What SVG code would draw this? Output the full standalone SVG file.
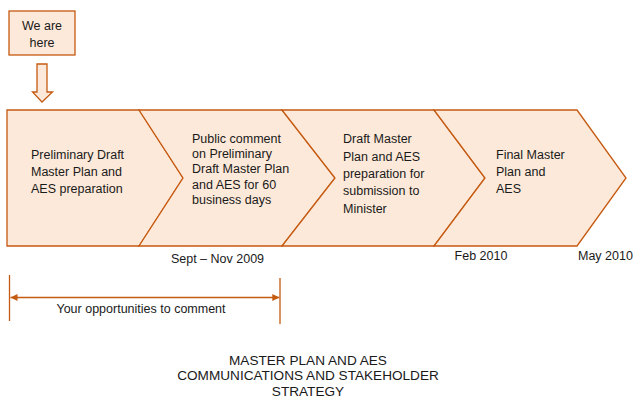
<svg xmlns="http://www.w3.org/2000/svg" width="633" height="399" viewBox="0 0 633 399">
  <style>
    .shape { fill: #FDE9D9; stroke: #C55A11; stroke-width: 1.3; stroke-linejoin: miter; }
    .txt { font-family: "Liberation Sans", Arial, sans-serif; font-size: 12.5px; fill: #1a1a1a; }
    .title { font-family: "Liberation Sans", Arial, sans-serif; font-size: 13.6px; fill: #1a1a1a; text-anchor: middle; }
    .rule { stroke: #C55A11; stroke-width: 1.3; fill: none; }
  </style>
  <defs>
    <marker id="arrowHead" viewBox="0 0 10 10" refX="10" refY="5" markerWidth="7" markerHeight="7" markerUnits="userSpaceOnUse" orient="auto-start-reverse">
      <path d="M0,0 L10,5 L0,10 Z" fill="#C55A11"/>
    </marker>
  </defs>

  <rect width="633" height="399" fill="#ffffff"/>

  <!-- "We are here" marker box -->
  <g id="marker-box">
    <rect class="shape" x="9" y="11" width="66" height="44"/>
    <text class="txt" x="42" y="29.5" text-anchor="middle">We are</text>
    <text class="txt" x="42" y="47" text-anchor="middle">here</text>
  </g>

  <!-- block arrow pointing down -->
  <g id="down-arrow">
    <path class="shape" d="M37,64 L47,64 L47,92 L52.5,92 L42,102 L32.5,92 L37,92 Z"/>
  </g>

  <!-- process chevrons -->
  <g id="stage-1">
    <path class="shape" d="M7,110 L139,110 L183,178 L139,246 L7,246 Z"/>
    <text class="txt" x="31">
      <tspan x="31" y="158.5">Preliminary Draft</tspan>
      <tspan x="31" y="175.7">Master Plan and</tspan>
      <tspan x="31" y="192.9">AES preparation</tspan>
    </text>
  </g>

  <g id="stage-2">
    <path class="shape" d="M139,110 L282,110 L335,178 L282,246 L139,246 L183,178 Z"/>
    <text class="txt">
      <tspan x="192" y="142.7">Public comment</tspan>
      <tspan x="192" y="158">on Preliminary</tspan>
      <tspan x="192" y="173.4">Draft Master Plan</tspan>
      <tspan x="192" y="188.7">and AES for 60</tspan>
      <tspan x="192" y="204">business days</tspan>
    </text>
  </g>

  <g id="stage-3">
    <path class="shape" d="M282,110 L434,110 L485,178 L434,246 L282,246 L335,178 Z"/>
    <text class="txt">
      <tspan x="343" y="142.7">Draft Master</tspan>
      <tspan x="343" y="160.8">Plan and AES</tspan>
      <tspan x="343" y="177.7">preparation for</tspan>
      <tspan x="343" y="195">submission to</tspan>
      <tspan x="343" y="212.5">Minister</tspan>
    </text>
  </g>

  <g id="stage-4">
    <path class="shape" d="M434,110 L577,110 L626,178 L577,246 L434,246 L485,178 Z"/>
    <text class="txt">
      <tspan x="496" y="158.5">Final Master</tspan>
      <tspan x="496" y="175.7">Plan and</tspan>
      <tspan x="496" y="192.9">AES</tspan>
    </text>
  </g>

  <!-- timeline dates -->
  <g id="dates">
    <text class="txt" x="217.5" y="262.5" text-anchor="middle">Sept – Nov 2009</text>
    <text class="txt" x="481" y="259.5" text-anchor="middle">Feb 2010</text>
    <text class="txt" x="578" y="259.5">May 2010</text>
  </g>

  <!-- comment period span -->
  <g id="connectors">
    <line class="rule" x1="9.5" y1="275" x2="9.5" y2="321"/>
    <line class="rule" x1="280" y1="278" x2="280" y2="324"/>
    <line class="rule" stroke-width="1" x1="10.5" y1="297.5" x2="279.3" y2="297.5" marker-start="url(#arrowHead)" marker-end="url(#arrowHead)"/>
  </g>
  <g id="span-label">
    <text class="txt" x="141" y="312.5" text-anchor="middle">Your opportunities to comment</text>
  </g>

  <!-- title -->
  <g id="title">
    <text class="title" x="308" y="365">MASTER PLAN AND AES</text>
    <text class="title" x="308" y="380.3">COMMUNICATIONS AND STAKEHOLDER</text>
    <text class="title" x="308" y="395.5">STRATEGY</text>
  </g>
</svg>
